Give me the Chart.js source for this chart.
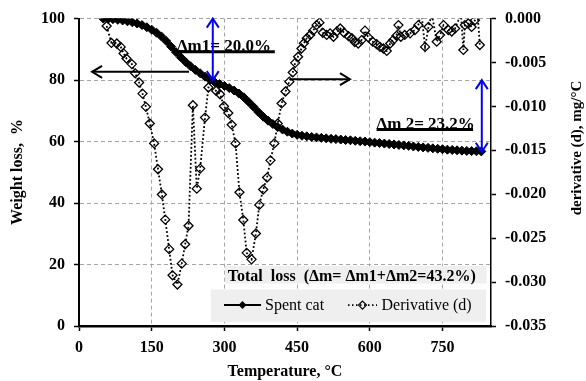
<!DOCTYPE html>
<html lang="en">
<head>
<meta charset="UTF-8">
<title>Weight loss and derivative of spent catalyst</title>
<script src="https://cdn.jsdelivr.net/npm/chart.js"></script>
<style>
  html, body { margin: 0; padding: 0; background: #fff; }
</style>
</head>
<body>
<canvas id="chart" width="586" height="381"></canvas>
<script>
// Weight loss of the spent catalyst (left axis, %)
const weightTemps = [50, 60, 70, 80, 90, 100, 110, 120, 130, 140, 150, 160, 170, 180, 190, 200,
  210, 220, 230, 240, 250, 260, 270, 280, 290, 300, 310, 320, 330, 340, 350, 360, 370, 380,
  390, 400, 410, 420, 430, 440, 450, 460, 470, 480, 490, 500, 510, 520, 530, 540, 550, 560,
  570, 580, 590, 600, 610, 620, 630, 640, 650, 660, 670, 680, 690, 700, 710, 720, 730, 740,
  750, 760, 770, 780, 790, 800, 810, 820, 830];
const weightLoss = [100.0, 99.9, 99.8, 99.6, 99.4, 99.1, 98.8, 98.4, 97.9, 97.2, 96.4, 95.4, 94.2,
  92.7, 90.9, 89.1, 87.4, 85.9, 84.5, 83.3, 82.2, 81.1, 80.1, 79.3, 78.7, 78.1, 77.4, 76.6,
  75.6, 74.4, 72.9, 71.3, 69.6, 68.1, 66.8, 65.7, 64.7, 63.9, 63.2, 62.6, 62.2, 61.9, 61.7,
  61.5, 61.35, 61.2, 61.05, 60.9, 60.8, 60.65, 60.5, 60.4, 60.25, 60.1, 60.0, 59.8, 59.65,
  59.5, 59.35, 59.2, 59.05, 58.9, 58.75, 58.6, 58.4, 58.25, 58.1, 57.95, 57.8, 57.65, 57.5,
  57.35, 57.25, 57.15, 57.05, 56.95, 56.9, 56.85, 56.8];

// Derivative (right axis, mg/°C)
const derivTemps = [57, 67, 78, 86, 92, 98, 109, 116, 124, 131, 138, 146, 155, 163, 171, 178,
  186, 193, 203, 212, 219, 226, 235, 243, 250, 260, 267, 283, 291, 299, 308, 315, 323, 331,
  339, 346, 356, 365, 372, 380, 388, 395, 403, 410, 418, 426, 434, 441, 446, 452, 459, 464,
  470, 477, 483, 490, 496, 503, 511, 518, 525, 532, 539, 547, 556, 563, 569, 576, 583, 590,
  597, 606, 614, 621, 628, 635, 642, 648, 655, 659, 664, 672, 683, 693, 700, 706, 714, 721,
  728, 738, 745, 752, 762, 769, 776, 788, 793, 796, 803, 810, 817, 822, 827];
const derivValues = [-0.00084, -0.00277, -0.00284, -0.00322, -0.00396, -0.00455, -0.00518,
  -0.00623, -0.00728, -0.00854, -0.01005, -0.01194, -0.01421, -0.01715, -0.02002, -0.02289,
  -0.02625, -0.02923, -0.03028, -0.02790, -0.02569, -0.02359, -0.00987, -0.01936, -0.01708,
  -0.01127, -0.00784, -0.00823, -0.00861, -0.00998, -0.01075, -0.01208, -0.01421, -0.01978,
  -0.02293, -0.02667, -0.02741, -0.02447, -0.02121, -0.01946, -0.01810, -0.01614, -0.01421,
  -0.01194, -0.00966, -0.00830, -0.00718, -0.00613, -0.00504, -0.00434, -0.00340, -0.00280,
  -0.00224, -0.00186, -0.00137, -0.00074, -0.00046, -0.00161, -0.00186, -0.00168, -0.00207,
  -0.00147, -0.00112, -0.00161, -0.00200, -0.00224, -0.00266, -0.00284, -0.00245, -0.00137,
  -0.00214, -0.00263, -0.00291, -0.00322, -0.00340, -0.00368, -0.00284, -0.00245, -0.00196,
  -0.00074, -0.00207, -0.00186, -0.00168, -0.00130, -0.00074, 0.00081, -0.00322, -0.00095,
  0.00053, -0.00263, -0.00186, -0.00074, -0.00130, -0.00147, -0.00112, 0.00053, -0.00357,
  -0.00074, -0.00056, -0.00095, -0.00018, 0.00070, -0.00301];

const xTicks = [0, 150, 300, 450, 600, 750];
const yTicks = [0, 20, 40, 60, 80, 100];
const y2Ticks = [0, -0.005, -0.010, -0.015, -0.020, -0.025, -0.030, -0.035];

const serif = '"Liberation Serif", "Times New Roman", serif';
const tickFont = { family: serif, size: 16, weight: 'bold' };

function arrowHead(ctx, x, y, ang, len, half) {
    const c = Math.cos(ang), s = Math.sin(ang);
    ctx.beginPath();
    ctx.moveTo(x - len * c + half * s, y - len * s - half * c);
    ctx.lineTo(x, y);
    ctx.lineTo(x - len * c - half * s, y - len * s + half * c);
    ctx.stroke();
}

function arrow(ctx, x1, y1, x2, y2, both, len, half) {
    ctx.beginPath();
    ctx.moveTo(x1, y1);
    ctx.lineTo(x2, y2);
    ctx.stroke();
    const ang = Math.atan2(y2 - y1, x2 - x1);
    arrowHead(ctx, x2, y2, ang, len, half);
    if (both) arrowHead(ctx, x1, y1, ang + Math.PI, len, half);
}

// labels, arrows, boxes and axis titles drawn over the plot
const overlay = {
    id: 'overlay',
    afterDraw(chart) {
        const { ctx, scales: { x, y } } = chart;
        const px = t => x.getPixelForValue(t);
        const py = v => y.getPixelForValue(v);
        ctx.save();

        // grey boxes
        ctx.fillStyle = '#efefef';
        ctx.fillRect(px(301), py(19.5), px(841) - px(301), py(13.8) - py(19.5));
        ctx.fillRect(px(272), py(11.9), px(840) - px(272), py(1.3) - py(11.9));

        ctx.fillStyle = '#000';
        ctx.textBaseline = 'alphabetic';
        ctx.textAlign = 'left';
        ctx.font = 'bold 16px ' + serif;
        ctx.fillText('Total  loss  (\u0394m= \u0394m1+\u0394m2=43.2%)', px(307), py(14.6));

        // legend
        const ly = py(6.8);
        ctx.strokeStyle = '#000';
        ctx.lineWidth = 2;
        ctx.beginPath();
        ctx.moveTo(224, ly); ctx.lineTo(261, ly); ctx.stroke();
        ctx.beginPath();
        ctx.moveTo(242.5, ly - 4); ctx.lineTo(246.5, ly); ctx.lineTo(242.5, ly + 4); ctx.lineTo(238.5, ly);
        ctx.closePath(); ctx.fill();
        ctx.font = '16px ' + serif;
        ctx.fillText('Spent cat', 265, ly + 5);
        ctx.lineWidth = 1.6;
        ctx.setLineDash([1.5, 2.5]);
        ctx.beginPath();
        ctx.moveTo(348, ly); ctx.lineTo(377, ly); ctx.stroke();
        ctx.setLineDash([]);
        ctx.lineWidth = 1.2;
        ctx.beginPath();
        ctx.moveTo(362.5, ly - 4); ctx.lineTo(366.5, ly); ctx.lineTo(362.5, ly + 4); ctx.lineTo(358.5, ly);
        ctx.closePath(); ctx.stroke();
        ctx.fillText('Derivative (d)', 381.5, ly + 5);

        // delta labels with underlines
        ctx.font = 'bold 17px ' + serif;
        ctx.fillText('\u0394m1= 20.0%', px(202), py(89.4));
        ctx.fillText('\u0394m 2= 23.2%', px(614), py(64.1));
        ctx.lineWidth = 3;
        ctx.beginPath();
        ctx.moveTo(px(202), py(89.2)); ctx.lineTo(px(404), py(89.2));
        ctx.moveTo(px(614), py(63.9)); ctx.lineTo(px(813), py(63.9));
        ctx.stroke();

        // black arrows pointing to the axis of each curve
        ctx.lineWidth = 2;
        arrow(ctx, px(227), py(82.7), px(27), py(82.7), false, 10, 6);
        arrow(ctx, px(435), py(80.3), px(559), py(80.3), false, 10, 6);

        // blue double arrows
        ctx.strokeStyle = '#0000ff';
        arrow(ctx, px(276), py(80), px(276), py(100), true, 9, 6);
        arrow(ctx, px(831), py(56.7), px(831), py(80), true, 9, 6);

        // axis titles
        ctx.fillStyle = '#000';
        ctx.font = 'bold 16px ' + serif;
        ctx.textAlign = 'center';
        ctx.fillText('Temperature, \u00b0C', (chart.chartArea.left + chart.chartArea.right) / 2, 376);
        ctx.save();
        ctx.translate(21.5, 172);
        ctx.rotate(-Math.PI / 2);
        ctx.fillText('Weight loss,  %', 0, 0);
        ctx.restore();
        ctx.save();
        ctx.font = 'bold 15px ' + serif;
        ctx.translate(581, 148);
        ctx.rotate(-Math.PI / 2);
        ctx.fillText('derivative (d), mg/\u00b0C', 0, 0);
        ctx.restore();

        ctx.restore();
    }
};

new Chart(document.getElementById('chart'), {
    type: 'scatter',
    data: {
        datasets: [{
            label: 'Spent cat',
            data: weightTemps.map((t, i) => ({ x: t, y: weightLoss[i] })),
            yAxisID: 'y',
            showLine: true,
            borderColor: '#000',
            borderWidth: 4,
            pointStyle: 'rectRot',
            pointRadius: 4.5,
            pointBackgroundColor: '#000',
            pointBorderColor: '#000',
            pointBorderWidth: 1
        }, {
            label: 'Derivative (d)',
            data: derivTemps.map((t, i) => ({ x: t, y: derivValues[i] })),
            yAxisID: 'y2',
            showLine: true,
            borderColor: '#000',
            borderWidth: 1.8,
            borderDash: [1.8, 2.2],
            pointStyle: 'rectRot',
            pointRadius: 4.5,
            pointBackgroundColor: 'rgba(0,0,0,0)',
            pointBorderColor: '#000',
            pointBorderWidth: 1.3
        }]
    },
    options: {
        responsive: false,
        animation: false,
        layout: { padding: { top: 18, left: 0, right: 0, bottom: 0 } },
        plugins: { legend: { display: false }, tooltip: { enabled: false } },
        scales: {
            x: {
                type: 'linear', min: 0, max: 850,
                afterBuildTicks: s => { s.ticks = xTicks.map(v => ({ value: v })); },
                afterFit: s => { s.height = 55; },
                ticks: { font: tickFont, color: '#000', padding: 7 },
                grid: { color: '#a6a6a6', lineWidth: 1, tickLength: 5, tickColor: '#000', tickWidth: 1.5 },
                border: { color: '#000', width: 2.5, dash: [4, 3] }
            },
            y: {
                position: 'left', min: 0, max: 100,
                afterBuildTicks: s => { s.ticks = yTicks.map(v => ({ value: v })); },
                afterFit: s => { s.width = 79; },
                ticks: { font: tickFont, color: '#000', padding: 9 },
                grid: { color: '#a6a6a6', lineWidth: 1, tickLength: 5, tickColor: '#000', tickWidth: 1.5 },
                border: { color: '#000', width: 2, dash: [4, 3] }
            },
            y2: {
                position: 'right', min: -0.035, max: 0,
                afterBuildTicks: s => { s.ticks = y2Ticks.map(v => ({ value: v })); },
                afterFit: s => { s.width = 95; },
                ticks: { font: tickFont, color: '#000', padding: 9, callback: v => v.toFixed(3) },
                grid: { drawOnChartArea: false, tickLength: 5, tickColor: '#000', tickWidth: 1.5 },
                border: { color: '#000', width: 1.5 }
            }
        }
    },
    plugins: [overlay]
});
</script>
</body>
</html>
